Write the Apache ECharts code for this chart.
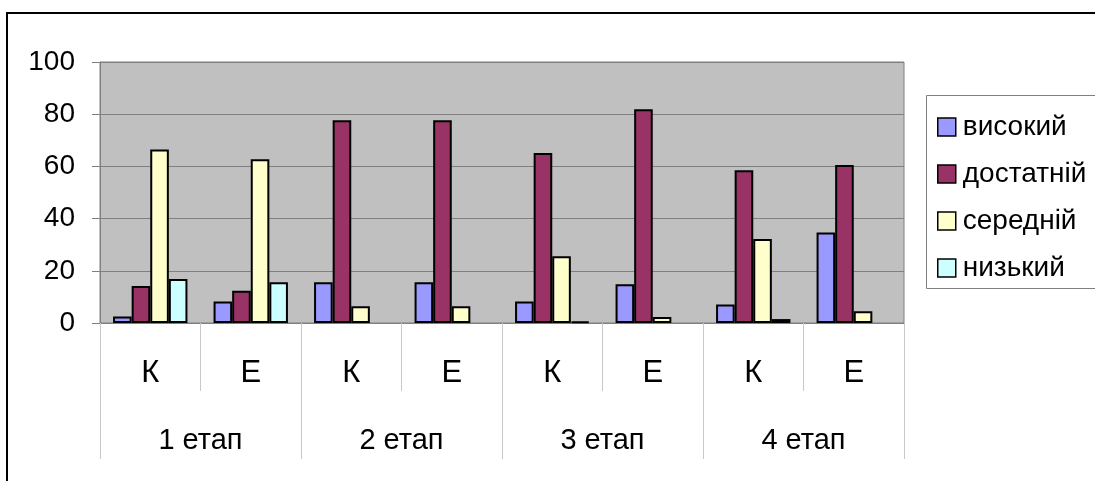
<!DOCTYPE html>
<html>
<head>
<meta charset="utf-8">
<style>
  html, body { margin: 0; padding: 0; background: #ffffff; }
  #chart { width: 1095px; height: 481px; }
</style>
<script src="https://cdn.jsdelivr.net/npm/echarts@6/dist/echarts.min.js"></script>
</head>
<body>
<div id="chart"></div>
<script>
// Sub-groups within each stage (control / experimental)
const subCategories = ['К', 'Е', 'К', 'Е', 'К', 'Е', 'К', 'Е'];
// Stage labels shown on the second row of the category axis
const stages = ['1 етап', '2 етап', '3 етап', '4 етап'];

// Level shares, %, per sub-group
const seriesNames = ['високий', 'достатній', 'середній', 'низький'];
const high       = [2.5, 8.2, 15.6, 15.6, 8.2, 14.8, 7.1, 34.7];
const sufficient = [14.2, 12.4, 77.7, 77.7, 65.1, 81.9, 58.5, 60.5];
const medium     = [66.5, 62.7, 6.4, 6.4, 25.6, 2.3, 32.2, 4.5];
const low        = [16.9, 15.6, null, null, 0.5, null, 1.5, null];

const yTicks = { min: 0, max: 100, interval: 20 };

const colors = ['#9999ff', '#993366', '#ffffcc', '#ccffff'];
const axisFont = '"Liberation Sans", Arial, sans-serif';
const legendFont = '"Liberation Sans", Arial, sans-serif';

const values = [high, sufficient, medium, low];

const chart = echarts.init(document.getElementById('chart'), null, { renderer: 'canvas' });

chart.setOption({
  backgroundColor: '#ffffff',
  animation: false,
  color: colors,
  grid: {
    left: 100, right: 191, top: 62, bottom: 158,
    show: true,
    backgroundColor: '#c0c0c0',
    borderColor: '#808080',
    borderWidth: 1
  },
  graphic: [
    // outer frame (continues past the right and bottom edges)
    {
      type: 'rect', z: -10, silent: true,
      shape: { x: 7, y: 13, width: 2000, height: 1000 },
      style: { fill: 'none', stroke: '#000000', lineWidth: 2 }
    },
    // legend box
    {
      type: 'rect', z: -5, silent: true,
      shape: { x: 926.5, y: 95.5, width: 300, height: 193 },
      style: { fill: '#ffffff', stroke: '#808080', lineWidth: 1 }
    }
  ],
  legend: {
    orient: 'vertical',
    left: 937, top: 113,
    padding: 0,
    itemWidth: 18, itemHeight: 18,
    itemGap: 19,
    icon: 'rect',
    itemStyle: { borderColor: '#000000', borderWidth: 1.5 },
    textStyle: { fontFamily: legendFont, fontSize: 28, color: '#000000', lineHeight: 28, padding: [0, 0, 0, 2] },
    data: seriesNames
  },
  xAxis: [
    {
      type: 'category',
      data: subCategories,
      position: 'bottom',
      axisLine: { show: true, lineStyle: { color: '#808080', width: 1 } },
      axisTick: { show: true, length: 68, alignWithLabel: false, lineStyle: { color: '#c8c8c8', width: 1 } },
      axisLabel: { fontFamily: axisFont, fontSize: 31, color: '#000000', margin: 35, lineHeight: 31 },
      splitLine: { show: false }
    },
    {
      type: 'category',
      data: stages,
      position: 'bottom',
      axisLine: { show: false },
      axisTick: { show: true, length: 136, alignWithLabel: false, lineStyle: { color: '#c8c8c8', width: 1 } },
      axisLabel: { fontFamily: axisFont, fontSize: 29, color: '#000000', margin: 103, lineHeight: 29 },
      splitLine: { show: false }
    }
  ],
  yAxis: {
    type: 'value',
    min: yTicks.min, max: yTicks.max, interval: yTicks.interval,
    axisLine: { show: true, lineStyle: { color: '#808080', width: 1 } },
    axisTick: { show: true, length: 8, lineStyle: { color: '#808080', width: 1 } },
    axisLabel: { fontFamily: axisFont, fontSize: 28, color: '#000000', margin: 25 },
    splitLine: { show: true, lineStyle: { color: '#808080', width: 1 } }
  },
  series: seriesNames.map((name, i) => ({
    name: name,
    type: 'bar',
    xAxisIndex: 0,
    data: values[i],
    barGap: '0%',
    barCategoryGap: '26%',
    itemStyle: { color: colors[i], borderColor: '#000000', borderWidth: 2 }
  }))
});
</script>
</body>
</html>
